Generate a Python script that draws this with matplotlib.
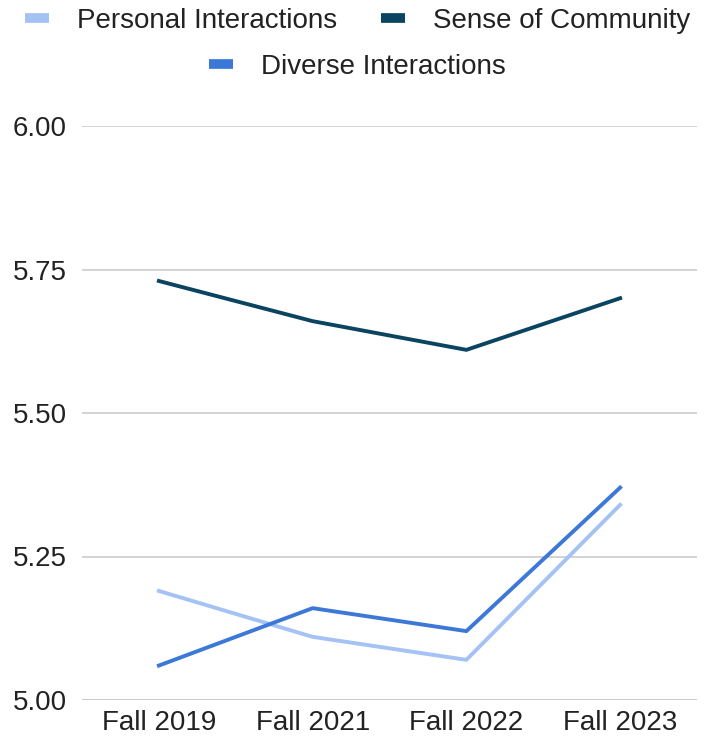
import matplotlib.pyplot as plt
from matplotlib.lines import Line2D

categories = ["Fall 2019", "Fall 2021", "Fall 2022", "Fall 2023"]
personal = [5.19, 5.11, 5.07, 5.34]
community = [5.73, 5.66, 5.61, 5.70]
diverse = [5.06, 5.16, 5.12, 5.37]

c_personal = "#a4c2f4"
c_community = "#0b4460"
c_diverse = "#3c78d8"

plt.rcParams['font.family'] = ['Liberation Sans', 'DejaVu Sans']

fig = plt.figure(figsize=(7.15, 7.47), dpi=100)
ax = fig.add_axes([82 / 715, 47 / 747, 615 / 715, 574 / 747])

x = range(len(categories))
ax.plot(x, personal, color=c_personal, lw=2.8)
ax.plot(x, community, color=c_community, lw=2.8)
ax.plot(x, diverse, color=c_diverse, lw=2.8)

ax.set_xlim(-0.5, len(categories) - 0.5)
ax.set_ylim(5.0, 6.0)
ax.set_yticks([5.0, 5.25, 5.5, 5.75, 6.0])
ax.set_yticklabels(["5.00", "5.25", "5.50", "5.75", "6.00"])
ax.set_xticks(list(x))
ax.set_xticklabels(categories)
ax.tick_params(axis='both', length=0, labelsize=20, colors="#222222")
ax.tick_params(axis='y', pad=11)
ax.tick_params(axis='x', pad=7)
ax.grid(axis='y', color="#cccccc", lw=1.2)
ax.set_axisbelow(True)
for s in ax.spines.values():
    s.set_visible(False)
ax.axhline(5.0, color="#bbbbbb", lw=1.8, zorder=0)

def handle(c):
    return Line2D([], [], color=c, lw=7, solid_capstyle='butt')

leg1 = fig.legend([handle(c_personal), handle(c_community)],
                  ["Personal Interactions", "Sense of Community"],
                  loc='center', bbox_to_anchor=(0.5, 1 - 21 / 747), ncol=2,
                  frameon=False, fontsize=20, handlelength=0.85,
                  columnspacing=1.6, handletextpad=1.0,
                  labelcolor="#222222")
leg2 = fig.legend([handle(c_diverse)], ["Diverse Interactions"],
                  loc='center', bbox_to_anchor=(0.5, 1 - 67 / 747),
                  frameon=False, fontsize=20, handlelength=0.85,
                  handletextpad=1.0, labelcolor="#222222")

fig.savefig("out.png", dpi=100)
